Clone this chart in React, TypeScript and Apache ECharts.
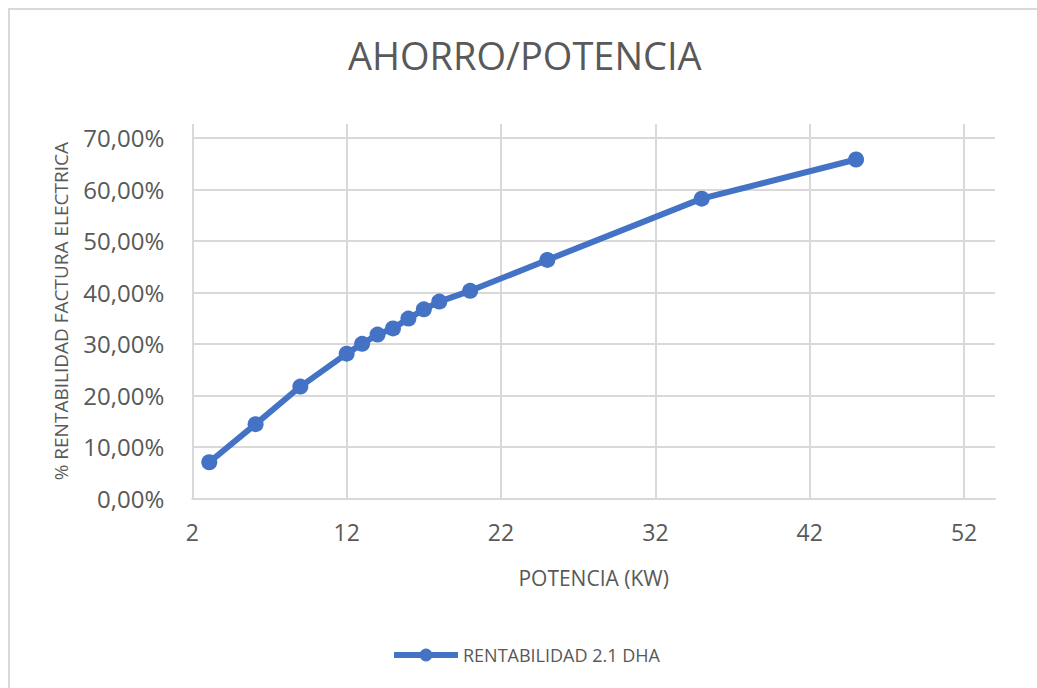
import React, { useEffect, useRef } from "react";
import * as echarts from "echarts";

// Contracted power (kW) and the saving on the electricity bill (%)
const potenciaKw: number[] = [3.1, 6.1, 9, 12, 13, 14, 15, 16, 17, 18, 20, 25, 35, 45];
const rentabilidadPct: number[] = [7.0, 14.4, 21.7, 28.1, 30.0, 31.8, 33.0, 34.9, 36.7, 38.2, 40.3, 46.3, 58.2, 65.8];

const TITLE = "AHORRO/POTENCIA";
const SERIES_NAME = "RENTABILIDAD 2.1 DHA";
const X_NAME = "POTENCIA (KW)";
const Y_NAME = "% RENTABILIDAD FACTURA ELECTRICA";

const FONT = "'Open Sans', 'Noto Sans', sans-serif";
const TEXT = "#595959";
const GRID = "#d9d9d9";
const BLUE = "#4472c4";

export default function App() {
  const ref = useRef<HTMLDivElement>(null);

  useEffect(() => {
    if (!ref.current) return;
    const chart = echarts.init(ref.current, undefined, { renderer: "svg" });
    const points = potenciaKw.map((x, i) => [x, rentabilidadPct[i]]);

    chart.setOption({
      animation: false,
      backgroundColor: "#ffffff",
      textStyle: { fontFamily: FONT },
      title: {
        text: TITLE,
        left: 348,
        top: 36,
        padding: 0,
        textStyle: { color: TEXT, fontSize: 38, fontWeight: "normal", fontFamily: FONT },
      },
      legend: {
        data: [SERIES_NAME],
        left: 386,
        top: 641,
        itemWidth: 64,
        itemHeight: 16,
        itemGap: 5,
        lineStyle: { width: 6 },
        textStyle: { color: TEXT, fontSize: 18, fontFamily: FONT },
      },
      grid: { left: 192.3, right: 42, top: 124, bottom: 189.7, containLabel: false },
      xAxis: {
        type: "value",
        min: 2,
        max: 54,
        interval: 10,
        name: X_NAME,
        nameLocation: "middle",
        nameGap: 69,
        nameTextStyle: { color: TEXT, fontSize: 21, fontFamily: FONT },
        axisLine: { show: true, lineStyle: { color: GRID, width: 2 } },
        axisTick: { show: false },
        axisLabel: { color: TEXT, fontSize: 23, margin: 22, showMaxLabel: false, fontFamily: FONT },
        splitLine: { show: true, showMaxLine: false, lineStyle: { color: GRID, width: 2 } },
      },
      yAxis: {
        type: "value",
        min: 0,
        max: 72.7,
        interval: 10,
        name: Y_NAME,
        nameLocation: "middle",
        nameGap: 122,
        nameRotate: 90,
        nameTextStyle: { color: TEXT, fontSize: 19, fontFamily: FONT },
        axisLine: { show: false },
        axisTick: { show: false },
        axisLabel: {
          color: TEXT,
          fontSize: 24,
          margin: 28,
          showMaxLabel: false,
          fontFamily: FONT,
          formatter: (v: number) => v.toFixed(2).replace(".", ",") + "%",
        },
        splitLine: { show: true, showMaxLine: false, lineStyle: { color: GRID, width: 2 } },
      },
      series: [
        {
          name: SERIES_NAME,
          type: "line",
          data: points,
          symbol: "circle",
          symbolSize: 16,
          lineStyle: { color: BLUE, width: 6 },
          itemStyle: { color: BLUE },
        },
      ],
      graphic: [
        { type: "line", shape: { x1: 9, y1: 8, x2: 9, y2: 688 }, style: { stroke: GRID, lineWidth: 2 } },
        { type: "line", shape: { x1: 8, y1: 9, x2: 1037, y2: 9 }, style: { stroke: GRID, lineWidth: 2 } },
      ],
    });

    return () => chart.dispose();
  }, []);

  return (
    <div style={{ position: "fixed", left: 0, top: 0, width: 1037, height: 688, background: "#fff" }}>
      <div ref={ref} style={{ width: 1037, height: 688 }} />
    </div>
  );
}
